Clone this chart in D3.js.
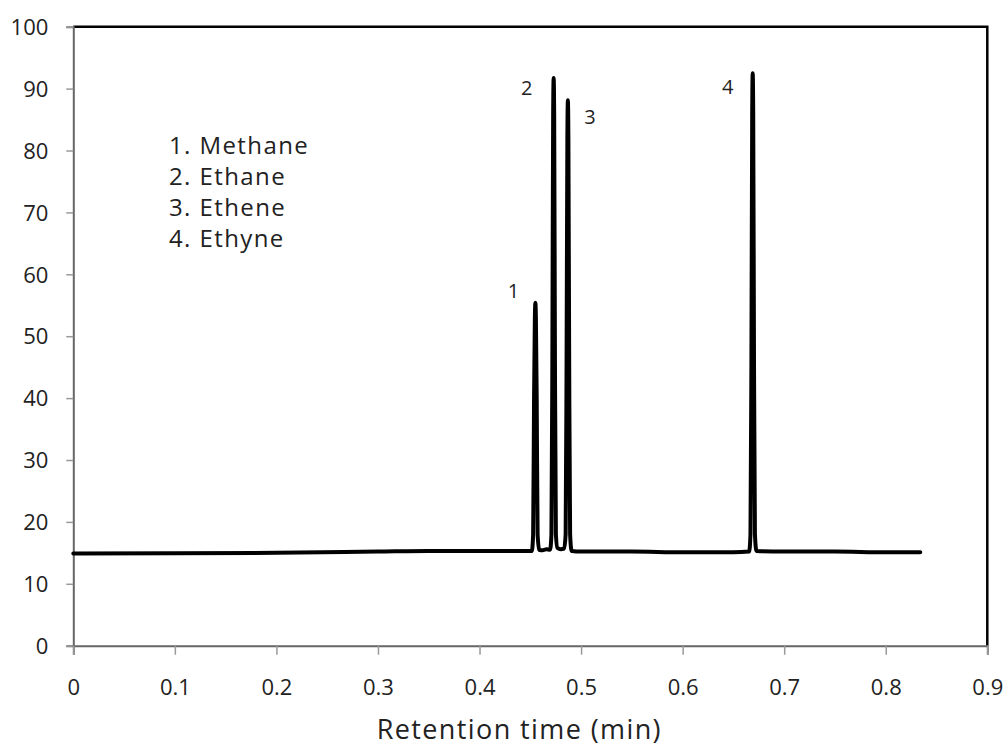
<!DOCTYPE html>
<html>
<head>
<meta charset="utf-8">
<script src="https://cdn.jsdelivr.net/npm/d3@7/dist/d3.min.js"></script>
<style>
  html, body { margin: 0; padding: 0; background: #fff; }
  svg { display: block; }
</style>
</head>
<body>
<svg id="chart" width="1004" height="750"></svg>
<script>
// ---- Data ----
const xTicks = [0, 0.1, 0.2, 0.3, 0.4, 0.5, 0.6, 0.7, 0.8, 0.9];
const yTicks = [0, 10, 20, 30, 40, 50, 60, 70, 80, 90, 100];
const xTickLabels = ["0", "0.1", "0.2", "0.3", "0.4", "0.5", "0.6", "0.7", "0.8", "0.9"];
const yTickLabels = ["0", "10", "20", "30", "40", "50", "60", "70", "80", "90", "100"];

// retention time (min) and signal
const times = [
  0, 0.1, 0.2, 0.3, 0.35, 0.4, 0.45, 0.4515,
  0.4528, 0.4537, 0.4545, 0.455, 0.4555, 0.4563, 0.4572, 0.4587,
  0.462, 0.466, 0.4695,
  0.4708, 0.4717, 0.4725, 0.473, 0.4735, 0.4743, 0.4752, 0.4767,
  0.480, 0.4833,
  0.4848, 0.4857, 0.4865, 0.487, 0.4875, 0.4883, 0.4892, 0.4907,
  0.50, 0.55, 0.60, 0.65, 0.6655,
  0.6668, 0.6677, 0.6685, 0.669, 0.6695, 0.6703, 0.6712, 0.6727,
  0.70, 0.75, 0.80, 0.834
];
const signal = [
  14.9, 14.95, 15.0, 15.2, 15.3, 15.3, 15.3, 15.3,
  18, 40, 53, 55.4, 53, 40, 18, 15.5,
  15.4, 15.6, 15.5,
  18, 45, 86, 91.7, 86, 45, 18, 15.8,
  15.6, 15.7,
  18, 45, 82, 88.1, 82, 45, 18, 15.3,
  15.2, 15.2, 15.1, 15.1, 15.2,
  18, 45, 86, 92.5, 86, 45, 18, 15.3,
  15.2, 15.2, 15.1, 15.1
];

const peakNumbers = ["1", "2", "3", "4"];
const peakTimes = [0.455, 0.473, 0.487, 0.669];
const peakHeights = [55.4, 91.7, 88.1, 92.5];
const legendItems = ["1. Methane", "2. Ethane", "3. Ethene", "4. Ethyne"];
const xTitle = "Retention time (min)";

// ---- Layout ----
const svg = d3.select("#chart");
const pL = 73.3, pR = 987.3, pT = 26.7, pB = 645.7;
const x = d3.scaleLinear().domain([0, 0.9]).range([pL, pR]);
const y = d3.scaleLinear().domain([0, 100]).range([pB, pT]);
const tickFont = "'Open Sans', 'DejaVu Sans', sans-serif";

svg.append("rect").attr("width", 1004).attr("height", 750).attr("fill", "#fff");

// top & right frame (black)
svg.append("path")
  .attr("d", `M${pL},${pT}H${pR}V${pB}`)
  .attr("fill", "none").attr("stroke", "#000").attr("stroke-width", 2.5);

// Left axis
const yAxis = svg.append("g")
  .attr("transform", `translate(${pL},0)`)
  .call(d3.axisLeft(y).tickValues(yTicks).tickFormat((d, i) => yTickLabels[i]).tickSize(7).tickPadding(18));
yAxis.select(".domain").attr("stroke", "#666").attr("stroke-width", 2);
yAxis.selectAll(".tick line").attr("stroke", "#999").attr("stroke-width", 1.5);
yAxis.selectAll(".tick text")
  .attr("font-family", tickFont).attr("font-size", 22).attr("fill", "#222")
  .attr("dy", "0.35em");

// Bottom axis
const xAxis = svg.append("g")
  .attr("transform", `translate(0,${pB})`)
  .call(d3.axisBottom(x).tickValues(xTicks).tickFormat((d, i) => xTickLabels[i]).tickSize(9).tickPadding(10));
xAxis.select(".domain").attr("stroke", "#666").attr("stroke-width", 2);
xAxis.selectAll(".tick line").attr("stroke", "#999").attr("stroke-width", 1.5);
xAxis.selectAll(".tick text")
  .attr("font-family", tickFont).attr("font-size", 22).attr("fill", "#222")
  .attr("y", 42).attr("dy", "0.35em");

// x-axis title
svg.append("text")
  .attr("x", (pL + pR) / 2 - 11).attr("y", 728)
  .attr("text-anchor", "middle").attr("dominant-baseline", "central")
  .attr("font-family", tickFont).attr("font-size", 27).attr("letter-spacing", 1.4).attr("fill", "#222")
  .text(xTitle);

// chromatogram
const pts = times.map((t, i) => [t, signal[i]]);
svg.append("path")
  .datum(pts)
  .attr("d", d3.line().x(d => x(d[0])).y(d => y(d[1])).curve(d3.curveMonotoneX))
  .attr("fill", "none").attr("stroke", "#000").attr("stroke-width", 4)
  .attr("stroke-linejoin", "round").attr("stroke-linecap", "round");

// peak labels
const labelDx = [-22, -27, 22, -25];
const labelDy = [-12, 9, 16, 13];
svg.selectAll(".peaklab").data(peakNumbers).enter().append("text")
  .attr("class", "peaklab")
  .attr("x", (d, i) => x(peakTimes[i]) + labelDx[i])
  .attr("y", (d, i) => y(peakHeights[i]) + labelDy[i])
  .attr("text-anchor", "middle").attr("dominant-baseline", "central")
  .attr("font-family", tickFont).attr("font-size", 20).attr("fill", "#222")
  .text(d => d);

// legend text
svg.selectAll(".legend").data(legendItems).enter().append("text")
  .attr("class", "legend")
  .attr("x", 169).attr("y", (d, i) => 144 + i * 31)
  .attr("dominant-baseline", "central")
  .attr("font-family", tickFont).attr("font-size", 24).attr("letter-spacing", 1.4).attr("fill", "#222")
  .text(d => d);
</script>
</body>
</html>
